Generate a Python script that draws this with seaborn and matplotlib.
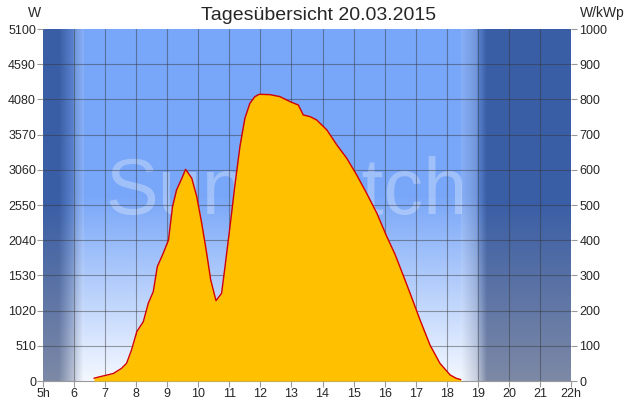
import numpy as np
import matplotlib.pyplot as plt
import seaborn as sns

hours = [6.64, 6.84, 7.05, 7.27, 7.53, 7.69, 7.85, 8.02, 8.23, 8.39, 8.55, 8.68,
         8.87, 9.04, 9.17, 9.30, 9.47, 9.59, 9.79, 9.95, 10.11, 10.27, 10.40,
         10.57, 10.75, 10.86, 11.02, 11.18, 11.34, 11.50, 11.66, 11.82, 11.96,
         12.31, 12.63, 12.95, 13.22, 13.38, 13.60, 13.81, 14.14, 14.46, 14.78,
         15.10, 15.42, 15.75, 16.07, 16.32, 16.49, 16.82, 17.14, 17.46, 17.78,
         18.11, 18.30, 18.45]
watts = [40, 63, 85, 110, 184, 256, 449, 715, 860, 1126, 1294, 1656,
         1850, 2043, 2526, 2768, 2937, 3067, 2937, 2671, 2285, 1850, 1463,
         1164, 1270, 1656, 2236, 2840, 3395, 3806, 4023, 4120, 4154,
         4149, 4120, 4048, 3999, 3854, 3830, 3782, 3637, 3420, 3227,
         2985, 2719, 2430, 2091, 1850, 1656, 1270, 884, 522, 256,
         87, 40, 20]

title = "Tagesübersicht 20.03.2015"
y_ticks_w = list(range(0, 5101, 510))
y_ticks_kwp = list(range(0, 1001, 100))
x_ticks = list(range(5, 23))
x_labels = ["5h"] + [str(h) for h in range(6, 22)] + ["22h"]

sns.set_style("white")
plt.rcParams["font.family"] = ["Liberation Sans", "DejaVu Sans"]

fig = plt.figure(figsize=(6.4, 4), dpi=100)
ax = fig.add_axes([43 / 640, 19 / 400, 528 / 640, 352 / 400])

# Hintergrund: Tag/Nacht-Verlauf
nx, ny = 528, 352
hx = np.linspace(5, 22, nx)
vy = np.linspace(5100, 0, ny)
day_top = np.array([120, 166, 248]) / 255
day_bot = np.array([244, 248, 255]) / 255
night_top = np.array([58, 94, 165]) / 255
night_bot = np.array([125, 137, 166]) / 255

fv = np.clip(vy / 2700, 0, 1)[:, None, None]
day = day_bot + (day_top - day_bot) * fv
fn = np.clip(vy / 2600, 0, 1)[:, None, None]
night = night_bot + (night_top - night_bot) * fn

d = np.interp(hx, [5, 5.5, 6.0, 6.3, 18.45, 19.0, 19.3, 22],
              [0, 0, 0.55, 1, 1, 0.55, 0, 0])
strip = np.interp(hx, [5.95, 6.0, 6.29, 6.3, 18.45, 18.46, 18.99, 19.0],
                  [0, 1, 1, 0, 0, 1, 1, 0])
d = d[None, :, None]
img = night + (day - night) * d
img = img + (1 - img) * 0.12 * strip[None, :, None]
ax.imshow(np.clip(img, 0, 1), extent=[5, 22, 0, 5100], aspect="auto",
          zorder=0, interpolation="bilinear")

# Wasserzeichen
ax.text(12.85, 2720, "SunWatch", fontsize=57, color="white", alpha=0.3,
        ha="center", va="center", zorder=1)

# Gitter
for x in x_ticks[1:-1]:
    ax.axvline(x, color="#333333", lw=0.8, alpha=0.45, zorder=2)
for y in y_ticks_w[1:-1]:
    ax.axhline(y, color="#333333", lw=0.8, alpha=0.45, zorder=2)

ax.fill_between(hours, watts, color="#ffc000", lw=0, zorder=3)
sns.lineplot(x=hours, y=watts, ax=ax, color="#d40000", lw=1.0, zorder=4,
             estimator=None, sort=False)

ax.set_xlim(5, 22)
ax.set_ylim(0, 5100)
ax.set_xticks(x_ticks)
ax.set_xticklabels(x_labels, fontsize=9)
ax.set_yticks(y_ticks_w)
ax.set_yticklabels([str(v) for v in y_ticks_w], fontsize=9)
ax.tick_params(axis="both", length=4, width=0.8, color="#999999", pad=1,
               left=True, bottom=True)

ax2 = ax.twinx()
ax2.set_ylim(0, 1000)
ax2.set_yticks(y_ticks_kwp)
ax2.set_yticklabels([str(v) for v in y_ticks_kwp], fontsize=9)
ax2.tick_params(axis="y", length=4, width=0.8, color="#999999", pad=2)

for a in (ax, ax2):
    for s in a.spines.values():
        s.set_visible(False)
ax.spines["bottom"].set_visible(True)
ax.spines["bottom"].set_color("#999999")

fig.text(35 / 640, 1 - 13 / 400, "W", fontsize=10, ha="center", va="center")
fig.text(602 / 640, 1 - 13 / 400, "W/kWp", fontsize=10, ha="center", va="center")
fig.text(319 / 640, 1 - 15 / 400, title, fontsize=14, ha="center", va="center")

fig.savefig("out.png", dpi=100)
